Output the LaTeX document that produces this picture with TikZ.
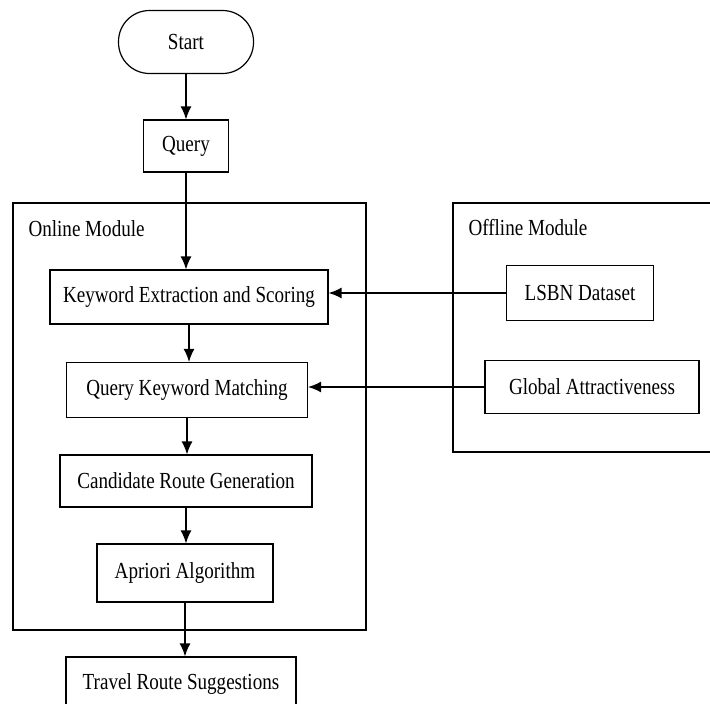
\documentclass[tikz,border=0pt]{standalone}
\usepackage{fontspec}
\setmainfont{Liberation Serif}[FakeStretch=0.83]
\usetikzlibrary{arrows.meta}

\tikzset{
  flowbox/.style={draw, line width=1.2pt, minimum width=#1, minimum height=53pt, inner sep=0pt},
  startstop/.style={draw, line width=1.2pt, rounded corners=31pt, minimum width=135pt, minimum height=63pt, inner sep=0pt},
  flowarrow/.style={-{Latex[length=13pt,width=11pt]}, line width=1.4pt},
  module/.style={draw, line width=1.2pt}
}

\begin{document}
\begin{tikzpicture}[x=1pt, y=-1pt, font=\fontsize{23}{27}\selectfont]
  \fill[white] (0,0) rectangle (710,704);
  \useasboundingbox (0,0) rectangle (710,704);
  \clip (0,0) rectangle (710,704);

  % modules
  \draw[module] (13,203) rectangle (366,630);
  \draw[module] (453,203) rectangle (730,452);
  \node[anchor=west] (online) at (25,229) {Online Module};
  \node[anchor=west] (offline) at (465,228) {Offline Module};

  % flow
  \node[startstop] (start) at (186,42) {Start};
  \node[flowbox=85pt, minimum height=52pt] (query) at (186,146) {Query};
  \node[flowbox=278pt, minimum height=54pt] (kes) at (189,297) {Keyword Extraction and Scoring};
  \node[flowbox=241pt, minimum height=55pt] (qkm) at (187,390) {Query Keyword Matching};
  \node[flowbox=252pt, minimum height=52pt] (cand) at (186,481) {Candidate Route Generation};
  \node[flowbox=176pt, minimum height=58pt] (apriori) at (185,573) {Apriori Algorithm};
  \node[flowbox=230pt, minimum height=54pt] (travel) at (181,684) {Travel Route Suggestions};

  \node[flowbox=147pt, minimum height=55pt] (lsbn) at (580,293) {LSBN Dataset};
  \node[flowbox=214pt, minimum height=53pt] (global) at (592,387) {Global Attractiveness};

  \draw[flowarrow] (start.south) -- (start.south |- query.north);
  \draw[flowarrow] (query.south) -- (query.south |- kes.north);
  \draw[flowarrow] (kes.south) -- (kes.south |- qkm.north);
  \draw[flowarrow] (qkm.south) -- (qkm.south |- cand.north);
  \draw[flowarrow] (cand.south) -- (cand.south |- apriori.north);
  \draw[flowarrow] (apriori.south) -- (apriori.south |- travel.north);

  \draw[flowarrow] (lsbn.west) -- (lsbn.west -| kes.east);
  \draw[flowarrow] (global.west) -- (global.west -| qkm.east);
\end{tikzpicture}
\end{document}
